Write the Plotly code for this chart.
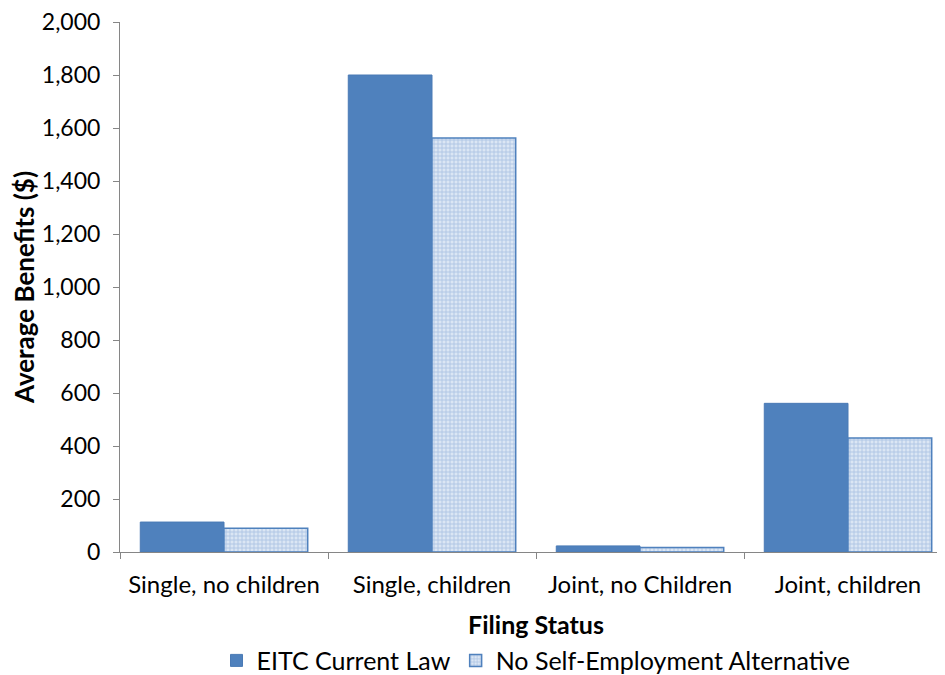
import plotly.graph_objects as go

categories = ["Single, no children", "Single, children", "Joint, no Children", "Joint, children"]
current_law = [113, 1800, 23, 561]
no_self_emp = [90, 1562, 17, 430]
y_ticks = [0, 200, 400, 600, 800, 1000, 1200, 1400, 1600, 1800, 2000]
y_tick_labels = ["0", "200", "400", "600", "800", "1,000", "1,200", "1,400", "1,600", "1,800", "2,000"]

FONT = "Lato, Liberation Sans, sans-serif"
BLUE = "#4f81bd"

fig = go.Figure()
fig.add_trace(go.Bar(
    x=categories, y=current_law, name="EITC Current Law",
    marker=dict(color=BLUE, line=dict(color="#4a7ab5", width=1)),
))
fig.add_trace(go.Bar(
    x=categories, y=no_self_emp, name="No Self-Employment Alternative",
    marker=dict(color="#c6d7ee", line=dict(color=BLUE, width=1.5),
                pattern=dict(shape="+", fgcolor="#7ea1d2", bgcolor="#dbe6f4", size=4, solidity=0.4)),
))

fig.update_layout(
    width=945, height=675,
    margin=dict(l=112, r=1, t=14, b=131, autoexpand=False),
    paper_bgcolor="white", plot_bgcolor="white",
    barmode="group", bargap=0.195, bargroupgap=0,
    font=dict(family=FONT, size=24, color="black"),
    showlegend=True,
    legend=dict(orientation="h", x=0.5, xanchor="center", y=-0.205, yanchor="middle",
                font=dict(family=FONT, size=25), traceorder="normal"),
    xaxis=dict(
        type="category", showline=True, linecolor="#868686", linewidth=1,
        ticks="outside", tickson="boundaries", ticklen=6, tickcolor="#868686",
        tickfont=dict(family=FONT, size=24), automargin=False, ticklabelstandoff=11,
        tickangle=0, ticklabeloverflow="allow",
        title=dict(text="<b>Filing Status</b>", font=dict(family=FONT, size=25), standoff=19),
        showgrid=False,
    ),
    yaxis=dict(
        range=[0, 2000], tickvals=y_ticks, ticktext=y_tick_labels,
        showline=True, linecolor="#868686", linewidth=1,
        ticks="outside", ticklen=6, tickcolor="#868686", automargin=False,
        ticklabelstandoff=8, ticklabeloverflow="allow",
        tickfont=dict(family=FONT, size=23), showgrid=False, zeroline=False,
        title=dict(text="<b>Average Benefits ($)</b>", font=dict(family=FONT, size=26), standoff=0),
    ),
)

fig.write_html("out.html")
